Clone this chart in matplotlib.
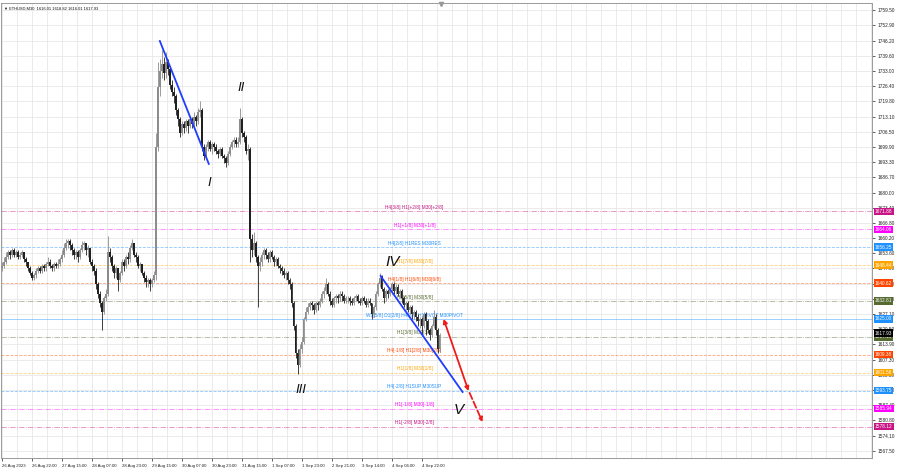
import matplotlib
matplotlib.use("Agg")
import matplotlib.pyplot as plt
import matplotlib.transforms as mtransforms
import numpy as np

# ETHUSD M30 (each bar here ~ 1 hour of the original chart)
close = [1648, 1650, 1652, 1654, 1653, 1655, 1653, 1654, 1652, 1653,
         1654, 1651, 1650, 1647, 1645, 1643, 1644, 1646, 1647, 1646,
         1648, 1647, 1649, 1650, 1648, 1647, 1649, 1648, 1649, 1651,
         1653, 1656, 1658, 1659, 1657, 1655, 1653, 1654, 1652, 1655,
         1657, 1658, 1655, 1656, 1650, 1648, 1646, 1640, 1636, 1632,
         1628, 1634, 1636, 1654, 1652, 1648, 1645, 1647, 1642, 1645,
         1650, 1648, 1652, 1651, 1656, 1658, 1653, 1652, 1648, 1649,
         1645, 1643, 1641, 1642, 1640, 1642, 1644, 1700, 1726, 1733,
         1736, 1732, 1737, 1734, 1727, 1724, 1722, 1716, 1712, 1706,
         1710, 1708, 1711, 1709, 1712, 1710, 1713, 1711, 1715, 1716,
         1700, 1696, 1700, 1702, 1699, 1701, 1700, 1698, 1697, 1699,
         1696, 1695, 1693, 1697, 1700, 1702, 1703, 1701, 1702, 1712,
         1706, 1704, 1698, 1699, 1660, 1655, 1658, 1652, 1648, 1650,
         1653, 1655, 1653, 1651, 1654, 1652, 1650, 1651, 1648, 1647,
         1646, 1644, 1645, 1642, 1640, 1632, 1622, 1610, 1605, 1612,
         1615, 1625, 1628, 1630, 1632, 1631, 1629, 1632, 1631, 1633,
         1636, 1637, 1640, 1636, 1633, 1631, 1634, 1635, 1634, 1636,
         1635, 1633, 1634, 1634, 1633, 1632, 1634, 1635, 1633, 1632,
         1634, 1633, 1631, 1633, 1632, 1627, 1630, 1636, 1640, 1643,
         1638, 1634, 1637, 1636, 1638, 1640, 1637, 1639, 1636, 1637,
         1634, 1631, 1632, 1629, 1630, 1627, 1628, 1626, 1624, 1625,
         1622, 1627, 1624, 1620, 1618, 1622, 1626, 1620, 1612, 1617.93]
high = [1650, 1652, 1654, 1655, 1655, 1656, 1656, 1655, 1655, 1654,
        1655, 1654, 1652, 1650, 1648, 1646, 1645, 1647, 1648, 1648,
        1649, 1649, 1650, 1652, 1651, 1649, 1650, 1650, 1651, 1652,
        1655, 1658, 1660, 1660, 1660, 1658, 1656, 1655, 1655, 1656,
        1659, 1659, 1658, 1657, 1656, 1651, 1649, 1647, 1641, 1637,
        1633, 1635, 1638, 1661, 1656, 1653, 1649, 1648, 1647, 1646,
        1651, 1651, 1653, 1654, 1657, 1660, 1658, 1654, 1653, 1650,
        1649, 1646, 1644, 1643, 1643, 1643, 1646, 1706, 1737, 1738,
        1742, 1739, 1741, 1738, 1735, 1729, 1726, 1723, 1717, 1713,
        1711, 1711, 1712, 1712, 1713, 1713, 1715, 1714, 1717, 1720,
        1717, 1701, 1701, 1703, 1703, 1702, 1702, 1701, 1699, 1700,
        1700, 1697, 1696, 1698, 1701, 1703, 1704, 1704, 1704, 1717,
        1713, 1707, 1705, 1701, 1700, 1662, 1663, 1659, 1653, 1652,
        1654, 1656, 1656, 1654, 1655, 1655, 1653, 1652, 1652, 1649,
        1648, 1647, 1646, 1646, 1643, 1641, 1633, 1623, 1612, 1614,
        1617, 1626, 1630, 1632, 1633, 1633, 1632, 1633, 1633, 1634,
        1637, 1639, 1643, 1641, 1637, 1634, 1635, 1636, 1636, 1637,
        1637, 1636, 1635, 1635, 1635, 1634, 1635, 1636, 1636, 1634,
        1635, 1635, 1634, 1634, 1634, 1632, 1631, 1637, 1641, 1645,
        1644, 1639, 1638, 1638, 1639, 1641, 1641, 1640, 1640, 1638,
        1638, 1635, 1633, 1633, 1631, 1631, 1629, 1629, 1627, 1626,
        1626, 1628, 1628, 1625, 1621, 1623, 1629, 1627, 1621, 1618.82]
low = [1646, 1647, 1649, 1651, 1651, 1652, 1652, 1652, 1651, 1651,
       1652, 1650, 1648, 1646, 1644, 1642, 1642, 1643, 1645, 1645,
       1645, 1646, 1646, 1648, 1647, 1646, 1646, 1647, 1647, 1648,
       1650, 1652, 1655, 1656, 1655, 1653, 1651, 1651, 1650, 1651,
       1654, 1655, 1653, 1652, 1649, 1646, 1644, 1638, 1634, 1630,
       1620, 1627, 1633, 1635, 1650, 1646, 1643, 1643, 1637, 1641,
       1644, 1646, 1647, 1649, 1650, 1655, 1652, 1650, 1647, 1646,
       1644, 1641, 1639, 1639, 1637, 1639, 1641, 1642, 1698, 1722,
       1730, 1729, 1730, 1731, 1725, 1722, 1719, 1714, 1709, 1704,
       1705, 1706, 1707, 1706, 1708, 1708, 1709, 1709, 1710, 1713,
       1698, 1694, 1695, 1698, 1698, 1697, 1698, 1697, 1695, 1696,
       1695, 1693, 1691, 1692, 1696, 1699, 1700, 1700, 1700, 1701,
       1704, 1702, 1697, 1694, 1650, 1652, 1653, 1650, 1630, 1646,
       1648, 1651, 1651, 1650, 1650, 1651, 1648, 1648, 1647, 1645,
       1644, 1643, 1642, 1640, 1638, 1630, 1620, 1608, 1601, 1604,
       1610, 1614, 1624, 1627, 1629, 1629, 1627, 1628, 1629, 1630,
       1632, 1634, 1636, 1635, 1631, 1630, 1630, 1632, 1632, 1633,
       1633, 1632, 1632, 1632, 1631, 1631, 1631, 1633, 1632, 1631,
       1631, 1632, 1630, 1630, 1631, 1625, 1626, 1629, 1635, 1639,
       1637, 1632, 1633, 1634, 1635, 1636, 1636, 1636, 1635, 1634,
       1632, 1630, 1629, 1628, 1627, 1625, 1625, 1624, 1622, 1621,
       1618, 1621, 1618, 1619, 1616, 1617, 1621, 1618, 1610, 1610.5]
first_open = 1647

time_labels = ["26 Aug 2023", "26 Aug 22:00", "27 Aug 15:00", "28 Aug 07:00",
               "28 Aug 23:00", "29 Aug 15:00", "30 Aug 07:00", "30 Aug 23:00",
               "31 Aug 15:00", "1 Sep 07:00", "1 Sep 23:00", "2 Sep 21:00",
               "3 Sep 14:00", "4 Sep 06:00", "4 Sep 22:00"]
price_ticks = [1759.50, 1752.90, 1746.20, 1739.60, 1733.00, 1726.40, 1719.80,
               1713.10, 1706.50, 1699.90, 1693.30, 1686.70, 1680.00, 1673.40,
               1666.80, 1660.20, 1653.60, 1647.00, 1640.40, 1633.70, 1627.10,
               1620.50, 1613.90, 1607.30, 1600.60, 1594.00, 1587.40, 1580.80,
               1574.10, 1567.50]

# Murrey math levels
levels = [1671.88, 1664.06, 1656.25, 1648.44, 1640.62, 1632.81, 1625.00,
          1617.19, 1609.38, 1601.56, 1593.75, 1585.94, 1578.12]
level_names = ["H4[3/8] H1[+2/8] M30[+2/8]", "H1[+1/8] M30[+1/8]",
               "H4[2/8] H1RES M30RES", "H1[7/8] M30[7/8]",
               "H4[1/8] H1[6/8] M30[6/8]", "H1[5/8] M30[5/8]",
               "W1[5/8] D1[2/8] H4SUP H1PIVOT M30PIVOT", "H1[3/8] M30[3/8]",
               "H4[-1/8] H1[2/8] M30[2/8]", "H1[1/8] M30[1/8]",
               "H4[-2/8] H1SUP M30SUP", "H1[-1/8] M30[-1/8]", "H1[-2/8] M30[-2/8]"]
level_colors = ["#C71585", "#FF00FF", "#1E90FF", "#FFA500", "#FF4500", "#556B2F",
                "#1E90FF", "#556B2F", "#FF4500", "#FFA500", "#1E90FF", "#FF00FF",
                "#C71585"]
level_styles = ["-.", "-.", "--", "--", "--", "-.", "-", "-.", "--", "--", "--", "-.", "-."]
last_price = 1617.93

# wave marks and drawn lines (bar index, price)
wave_names = ["I", "II", "III", "IV", "V"]
wave_x = [103.5, 119.5, 149.5, 195.5, 228.5]
wave_y = [1684.2, 1725.5, 1594.1, 1649.8, 1585.4]
trend_lines = [((79, 1746.0), (103.5, 1692.5)), ((189.5, 1643.7), (230.5, 1593.2))]
arrow_solid = ((221, 1625.0), (233.5, 1593.6))
arrow_dash = ((234, 1592.8), (240.5, 1580.1))

plt.rcParams["font.family"] = ["Liberation Sans", "DejaVu Sans"]

fig = plt.figure(figsize=(9, 4.68), dpi=100)
ax = fig.add_axes([0.0011, 0.0214, 0.968, 0.9722])

n = len(close)
opens = [first_open] + close[:-1]

ax.set_xlim(-0.5, 435.5)
ax.set_ylim(1564.46, 1762.55)

# grid
ax.set_xticks(np.arange(0, 15 * len(time_labels), 15))
ax.set_xticks(np.arange(7.5, 436, 7.5), minor=True)
ax.set_yticks(price_ticks)
ax.grid(True, which="both", color="#e8e8e8", lw=0.6)
ax.set_axisbelow(True)

# levels
for lv, nm, c, ls in zip(levels, level_names, level_colors, level_styles):
    ax.axhline(lv, color=c, lw=0.6, ls=ls, alpha=0.5, zorder=1)
    ax.text(206.5, lv + 0.6, nm, color=c, fontsize=3.4, ha="center", va="bottom", zorder=2)

# candles
for i in range(n):
    o, c = opens[i], close[i]
    col = "#8c8c8c" if c >= o else "#202020"
    ax.vlines(i, low[i], high[i], color=col, lw=0.6, zorder=3)
    ax.bar(i, max(abs(c - o), 0.25), bottom=min(o, c), width=0.75, color=col,
           lw=0, zorder=3)

# trend lines
for (x0, y0), (x1, y1) in trend_lines:
    ax.plot([x0, x1], [y0, y1], color="#1f3cff", lw=1.3, zorder=4)

# red arrows
(ax0, ay0), (ax1, ay1) = arrow_solid
ax.annotate("", xy=(ax0, ay0), xytext=(ax1, ay1),
            arrowprops=dict(arrowstyle="<|-|>", color="#ee1c1c", lw=1.3,
                            mutation_scale=6, shrinkA=0, shrinkB=0), zorder=5)
(bx0, by0), (bx1, by1) = arrow_dash
ax.annotate("", xy=(bx1, by1), xytext=(bx0, by0),
            arrowprops=dict(arrowstyle="-|>", color="#ee1c1c", lw=1.3, ls="--",
                            mutation_scale=6, shrinkA=0, shrinkB=0), zorder=5)

# wave labels
for nm, wx, wy in zip(wave_names, wave_x, wave_y):
    fs = 11 if nm in ("IV", "V") else 9.5
    ax.text(wx, wy, nm, fontsize=fs, style="italic", ha="center", va="center",
            color="#111111", zorder=6)

# axes styling
ax.yaxis.tick_right()
ax.set_yticklabels([f"{p:.2f}" for p in price_ticks])
ax.tick_params(axis="y", labelsize=3.4, length=2, pad=2, width=0.5, colors="#222222")
ax.set_xticklabels(time_labels, ha="left")
ax.tick_params(axis="x", labelsize=3.1, length=2, pad=2, width=0.5, colors="#222222")
ax.tick_params(which="minor", length=0)
for s in ax.spines.values():
    s.set_color("#9a9a9a")
    s.set_linewidth(0.7)

# price tags on the right axis
trans = mtransforms.blended_transform_factory(ax.transAxes, ax.transData)
for lv, c in zip(levels, level_colors):
    ax.text(1.003, lv, f"{lv:.2f}", transform=trans, fontsize=3.4, color="white",
            ha="left", va="center", clip_on=False, zorder=7,
            bbox=dict(boxstyle="square,pad=0.25", fc=c, ec="none"))
ax.text(1.003, last_price + 0.9, f"{last_price:.2f}", transform=trans, fontsize=3.4,
        color="white", ha="left", va="center", clip_on=False, zorder=8,
        bbox=dict(boxstyle="square,pad=0.25", fc="#000000", ec="none"))

# header
ax.text(0.004, 0.993, "\u25bc ETHUSD,M30  1616.01 1618.82 1616.01 1617.93",
        transform=ax.transAxes, fontsize=2.9, ha="left", va="top", color="#111111")
ax.plot([n - 1 + 0.5], [1762.0], marker="v", color="#9a9a9a", ms=3, clip_on=False)

fig.savefig("out.png", dpi=100)
